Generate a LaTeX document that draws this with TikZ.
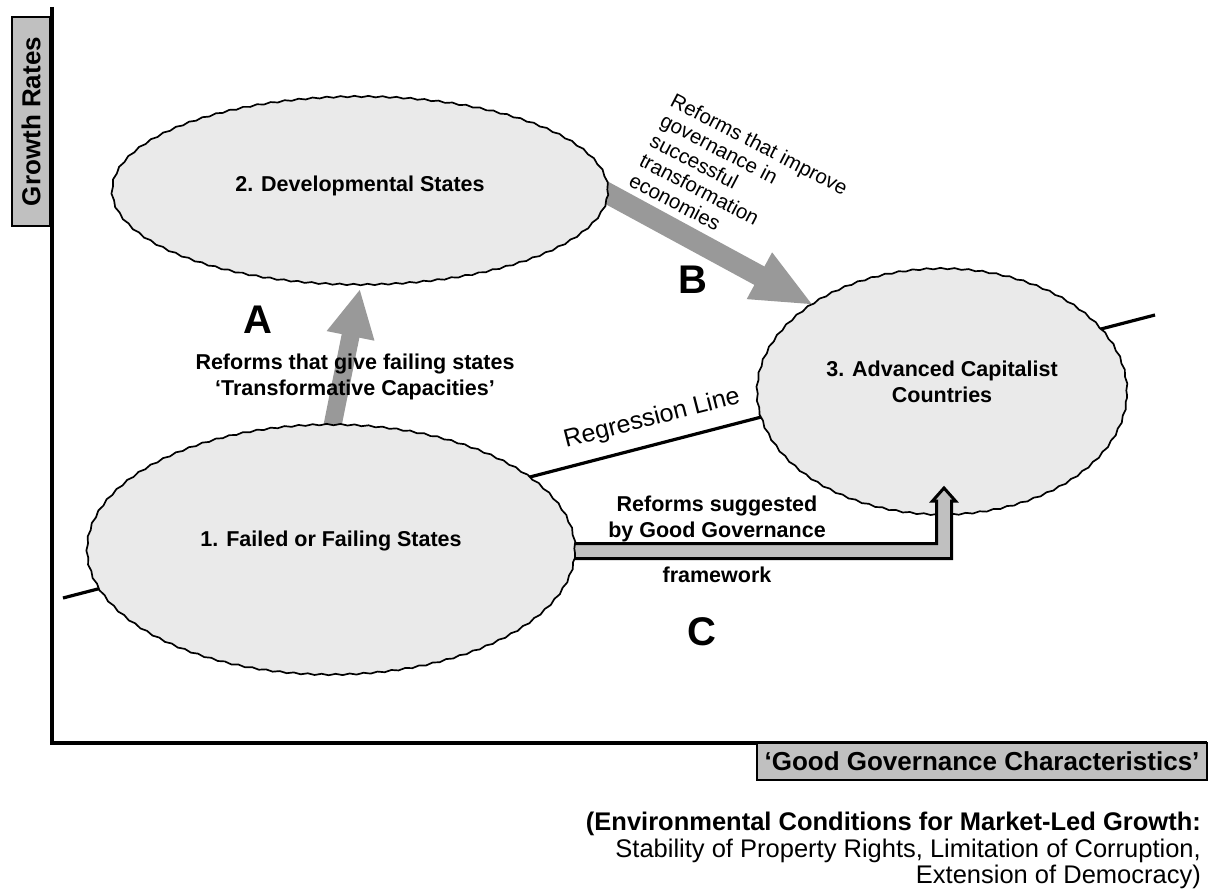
\documentclass[tikz,border=0pt]{standalone}
\usepackage{fontspec}
\setmainfont{Liberation Sans}
\usetikzlibrary{shapes.geometric,arrows.meta,decorations.pathmorphing,calc}
\pgfdeclarelayer{bg}
\pgfsetlayers{bg,main}
\definecolor{ellfill}{gray}{0.918}
\definecolor{boxfill}{gray}{0.753}
\definecolor{arrgray}{gray}{0.6}
\begin{document}
\begin{tikzpicture}[x=1pt,y=-1pt,
  blob/.style={ellipse, draw=black, line width=1.7pt, fill=ellfill, inner sep=0pt,
    decorate, decoration={snake, amplitude=0.7pt, segment length=14pt}},
  lbl/.style={font=\fontsize{21.5}{25.5}\selectfont\bfseries, align=center, inner sep=0pt},
  plain/.style={font=\fontsize{21.5}{25.5}\selectfont, inner sep=0pt},
  bigletter/.style={font=\fontsize{40}{44}\selectfont\bfseries, inner sep=0pt},
  axbox/.style={draw=black, line width=1.5pt, fill=boxfill, inner sep=0pt,
    font=\fontsize{26}{29}\selectfont\bfseries},
  garrowA/.style={draw=arrgray, line width=18pt, -{Triangle[length=48pt,width=45pt]}},
  garrowB/.style={draw=arrgray, line width=21pt, -{Triangle[length=62pt,width=48pt]}},
  cbody/.style={draw=black, fill=boxfill, line width=3pt, line join=miter},
  axisline/.style={line width=3.5pt},
  regline/.style={line width=3.2pt},
]
\useasboundingbox (0,0) rectangle (1209,890);

% axes
\coordinate (ytop) at (52,7);
\coordinate (orig) at (52,743);
\coordinate (xend) at (1207,743);
\draw[axisline] (ytop) -- (orig) -- (xend);

% axis labels
\node[axbox, rotate=90, minimum width=209pt, minimum height=38pt] (ylab) at (31,121.5) {Growth Rates};
\node[axbox, minimum width=450pt, minimum height=37pt] (xlab) at (982,761.5) {‘Good Governance Characteristics’};

% ellipses (main layer)
\node[blob, minimum width=488pt, minimum height=250pt] (e1) at (331,553) {};
\node[blob, minimum width=496pt, minimum height=188pt] (e2) at (360,194) {};

\begin{pgfonlayer}{bg}
  \coordinate (r0) at (63,598);
  \coordinate (r1) at (1155,315);
  \draw[regline] (r0) -- (r1);
  \node[blob, minimum width=370pt, minimum height=246pt] (e3) at (942,395) {};
  % arrow C
  \coordinate (ctip) at (944,488);
  \draw[cbody] (560,543.5) -- (936.5,543.5) -- (936.5,501) -- (932.5,501) -- (ctip)
     -- (955.5,501) -- (951.5,501) -- (951.5,558.5) -- (560,558.5) -- cycle;
  % arrow A
  \draw[garrowA] ($(e1.north)+(0,6)$) -- (e2.south);
  % arrow B
  \draw[garrowB] ($(e2.east)!-25pt!(e3.145)$) -- (e3.145);
\end{pgfonlayer}

% ellipse texts
\node[lbl] (t2) at (360,186) {2. Developmental States};
\node[lbl] (t1) at (331,541) {1. Failed or Failing States};
\node[lbl] (t3) at (942,382) {3. Advanced Capitalist\\Countries};

% arrow labels
\node[lbl] (tA) at (355,377) {Reforms that give failing states\\‘Transformative Capacities’};
\node[lbl] (tC) at (717,519) {Reforms suggested\\by Good Governance};
\node[lbl] (tC2) at (717,575) {framework};
\node[plain, font=\fontsize{20.5}{22.5}\selectfont, align=left, rotate=-27.5, anchor=north west] (tB) at (676,92)
  {Reforms that improve\\governance in\\successful\\transformation\\economies};
\node[plain, font=\fontsize{25}{28}\selectfont, rotate=14.4] (treg) at (652,419) {Regression Line};

% letters
\node[bigletter] (la) at (258,320) {A};
\node[bigletter] (lb) at (693,280) {B};
\node[bigletter] (lc) at (702,632) {C};

% bottom text
\node[plain, font=\fontsize{25.5}{26.5}\selectfont, align=right, anchor=north east] (note) at (1201,812)
  {\textbf{(Environmental Conditions for Market-Led Growth:}\\
   Stability of Property Rights, Limitation of Corruption,\\
   Extension of Democracy)};
\end{tikzpicture}
\end{document}
